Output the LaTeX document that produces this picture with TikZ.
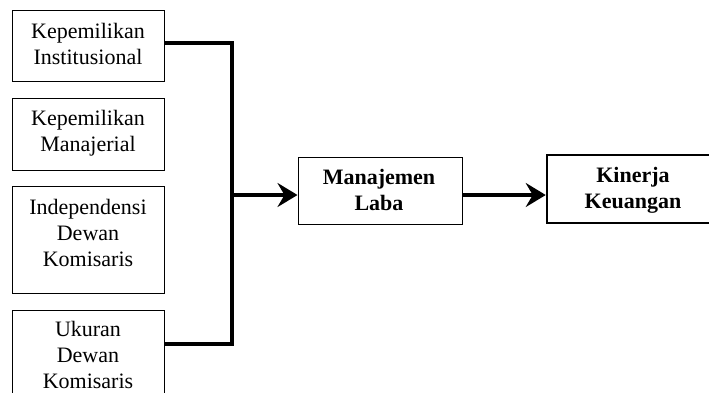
\documentclass[tikz,border=0pt]{standalone}
\usepackage{fontspec}
\setmainfont{Liberation Serif}
\usetikzlibrary{arrows.meta}
\begin{document}
\begin{tikzpicture}[x=1pt,y=-1pt,
  box/.style={draw, line width=1pt, inner sep=0pt},
  lbl/.style={align=center, inner sep=0pt, font=\fontsize{22}{26}\selectfont},
  blbl/.style={lbl, font=\fontsize{22}{26}\selectfont\bfseries},
  conn/.style={line width=4pt},
  arr/.style={line width=4pt, -{Stealth[length=20pt,width=24pt,inset=7pt]}}]
\useasboundingbox (0,0) rectangle (709,392);
\clip (0,0) rectangle (709,392);
% left boxes
\node[box, minimum width=152pt, minimum height=71pt] (b1) at (88,45.5) {};
\node[lbl] (t1) at (88,44) {Kepemilikan\\Institusional};
\node[box, minimum width=152pt, minimum height=72pt] (b2) at (88,134) {};
\node[lbl] (t2) at (88,133) {Kepemilikan\\Manajerial};
\node[box, minimum width=152pt, minimum height=107pt] (b3) at (88,239.5) {};
\node[lbl] (t3) at (88,233) {Independensi\\Dewan\\Komisaris};
\node[box, minimum width=152pt, minimum height=107pt] (b4) at (88,363.5) {};
\node[lbl] (t4) at (88,355) {Ukuran\\Dewan\\Komisaris};
% middle and right boxes
\node[box, minimum width=164pt, minimum height=67pt] (m) at (380,190.5) {};
\node[blbl] (tm) at (379,190) {Manajemen\\Laba};
\node[box, line width=2.5pt, minimum width=172pt, minimum height=68pt] (k) at (633,189) {};
\node[blbl] (tk) at (633,190) {Kinerja\\Keuangan};
% connectors
\coordinate (top) at (232,42.5);
\coordinate (bot) at (232,344);
\coordinate (j) at (232,195);
\draw[conn] (b1.east |- top) -- (top) -- (bot) -- (b4.east |- bot);
\draw[arr] (j) -- (j -| m.west);
\draw[arr] (m.east |- j) -- (k.west |- j);
\end{tikzpicture}
\end{document}
